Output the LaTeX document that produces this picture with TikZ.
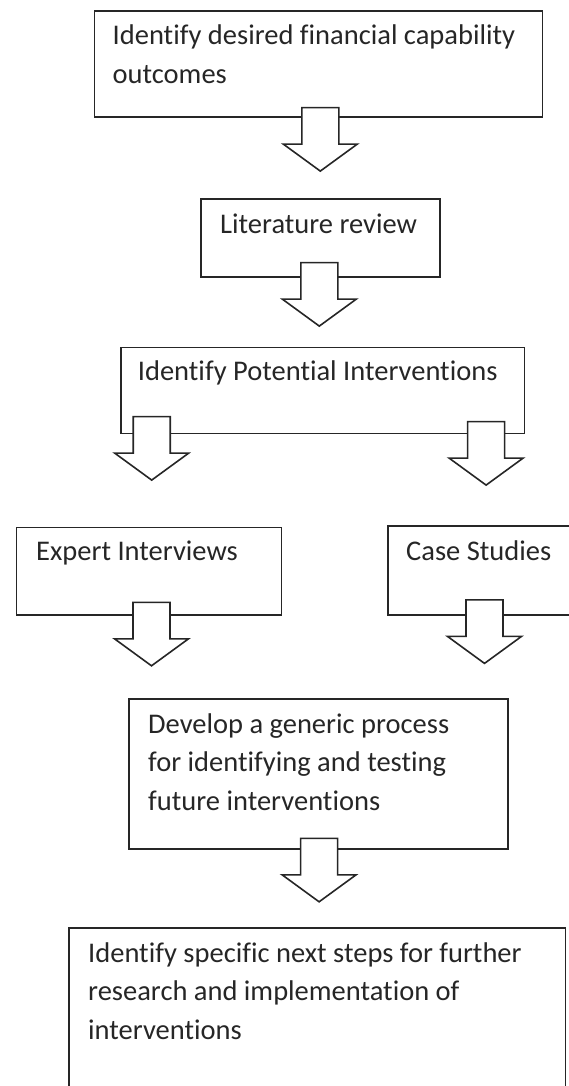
\documentclass[tikz,border=0pt]{standalone}
\usepackage{fontspec}
\setmainfont{Carlito}[Ligatures=NoCommon]

\tikzset{
  box/.style={draw=black!85, line width=1.6pt, rectangle, inner sep=0pt, anchor=north west},
  txt/.style={anchor=base west, align=left, inner sep=0pt, text=black!85,
    font=\fontsize{28.5}{38.5}\selectfont},
  blockarrow/.style={draw=black!85, line width=1.6pt, fill=white},
}

\begin{document}
\begin{tikzpicture}[x=1pt,y=-1pt]
    \useasboundingbox (0,0) rectangle (568,1086);

    % boxes
    \node[box, minimum width=448pt, minimum height=106pt] (outcomes) at (93.5,10) {};
    \node[box, minimum width=239pt, minimum height=78pt] (litreview) at (200,198) {};
    \node[box, minimum width=403.5pt, minimum height=86pt] (potential) at (120,346.5) {};
    \node[box, minimum width=265pt, minimum height=87.3pt] (expert) at (15.5,526.7) {};
    \node[box, minimum width=190pt, minimum height=89pt] (cases) at (387,525) {};
    \node[box, minimum width=379pt, minimum height=149.7pt] (generic) at (128,698.3) {};
    \node[box, minimum width=496.5pt, minimum height=200pt] (nextsteps) at (68,927) {};

    % tops of the block arrows
    \coordinate (a1) at ([shift={(2,-10)}]outcomes.south);
    \coordinate (a2) at ([shift={(-1,-15)}]litreview.south);
    \coordinate (a3) at ([shift={(31.7,-17.5)}]potential.south west);
    \coordinate (a4) at ([shift={(-39,-12.5)}]potential.south east);
    \coordinate (a5) at ([shift={(2.7,-13.3)}]expert.south);
    \coordinate (a6) at ([shift={(97.5,-15.7)}]cases.south west);
    \coordinate (a7) at ([shift={(0.8,-11.3)}]generic.south);

    \foreach \c in {a1,a2,a3,a4,a5,a6,a7}
        \draw[blockarrow] (\c) ++(-18.5,0) -- ++(37,0) -- ++(0,36.5) -- ++(18.5,0)
            -- ++(-37,27) -- ++(-37,-27) -- ++(18.5,0) -- cycle;

    % labels (base west sits on the last line)
    \node[txt] (outcomes-t) at ([shift={(19,73.5)}]outcomes.north west)
        {Identify desired financial capability\\outcomes};
    \node[txt] (litreview-t) at ([shift={(20,35)}]litreview.north west) {Literature review};
    \node[txt] (potential-t) at ([shift={(17.7,34)}]potential.north west)
        {Identify Potential Interventions};
    \node[txt] (expert-t) at ([shift={(20.5,33.5)}]expert.north west) {Expert Interviews};
    \node[txt] (cases-t) at ([shift={(19,35)}]cases.north west) {Case Studies};
    \node[txt] (generic-t) at ([shift={(20,111.7)}]generic.north west)
        {Develop a generic process\\for identifying and testing\\future interventions};
    \node[txt] (nextsteps-t) at ([shift={(20,112)}]nextsteps.north west)
        {Identify specific next steps for further\\research and implementation of\\interventions};
\end{tikzpicture}
\end{document}
